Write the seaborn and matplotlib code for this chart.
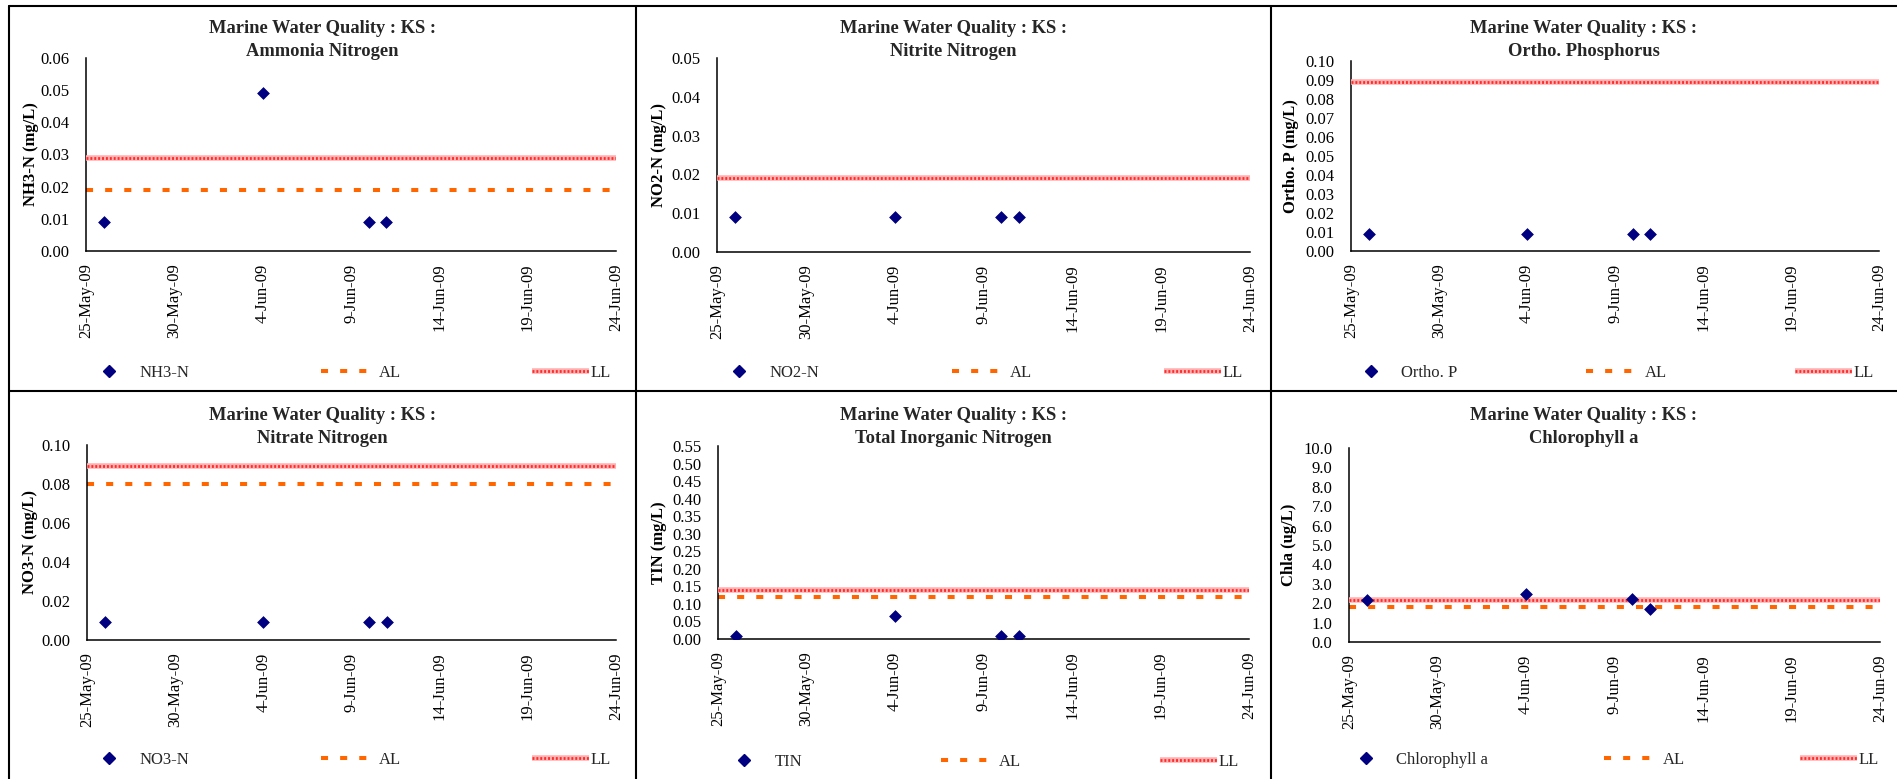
import numpy as np
import pandas as pd
import matplotlib
matplotlib.use('Agg')
import matplotlib.pyplot as plt
import matplotlib.dates as mdates
from matplotlib.lines import Line2D
from matplotlib.ticker import FuncFormatter, FormatStrFormatter
import seaborn as sns

# sampling dates and range of the date axis
sample_dates = pd.to_datetime(['2009-05-26', '2009-06-04', '2009-06-10', '2009-06-11'])
limit_dates = pd.to_datetime(['2009-05-25', '2009-06-24'])
x_ticks = pd.date_range('2009-05-25', '2009-06-24', freq='5D')

# measured values per parameter
nh3_n = [0.009, 0.049, 0.009, 0.009]
no2_n = [0.009, 0.009, 0.009, 0.009]
ortho_p = [0.009, 0.009, 0.009, 0.009]
no3_n = [0.009, 0.009, 0.009, 0.009]
tin = [0.009, 0.066, 0.009, 0.009]
chla = [2.15, 2.45, 2.2, 1.7]

# action level (AL) and limit level (LL)
al_levels = [0.019, np.nan, np.nan, 0.080, 0.12, 1.8]
ll_levels = [0.029, 0.019, 0.089, 0.089, 0.14, 2.14]

titles = ['Ammonia Nitrogen', 'Nitrite Nitrogen', 'Ortho. Phosphorus',
          'Nitrate Nitrogen', 'Total Inorganic Nitrogen', 'Chlorophyll a']
series_names = ['NH3-N', 'NO2-N', 'Ortho. P', 'NO3-N', 'TIN', 'Chlorophyll a']
y_labels = ['NH3-N (mg/L)', 'NO2-N (mg/L)', 'Ortho. P (mg/L)',
            'NO3-N (mg/L)', 'TIN (mg/L)', 'Chla (ug/L)']
y_max = [0.06, 0.05, 0.10, 0.10, 0.55, 10.0]
y_step = [0.01, 0.01, 0.01, 0.02, 0.05, 1.0]
y_fmt = ['%.2f', '%.2f', '%.2f', '%.2f', '%.2f', '%.1f']
values = [nh3_n, no2_n, ortho_p, no3_n, tin, chla]

sns.set_theme(style='white')
plt.rcParams['font.family'] = ['Liberation Serif', 'DejaVu Serif']

W, H = 1897, 779
fig = plt.figure(figsize=(W / 100, H / 100), dpi=100)

# layout in pixels: axes (left, right, top, bottom), y label right edge, legend (left, right, y)
axes_px = [(86, 616, 58, 251), (717, 1250, 58, 252), (1351, 1879, 61, 251),
           (87, 616, 445, 640), (718, 1249, 446, 639), (1349, 1880, 448, 642)]
ylabel_x = [39, 667, 1299, 38, 667, 1297]
legend_px = [(81, 611, 373), (711, 1243, 373), (1343, 1874, 373),
             (81, 611, 760), (716, 1239, 762), (1338, 1879, 760)]
panel_x = [(9, 636), (636, 1271), (1271, 1897)]
title_y = [40, 427]

navy = '#000080'
orange = '#FF6600'
al_style = (0, (1.75, 3.0))


def date_fmt(v, pos):
    d = mdates.num2date(v)
    return f"{d.day}-{d.strftime('%b-%y')}"


for i in range(6):
    l, r, t, b = axes_px[i]
    ax = fig.add_axes([l / W, 1 - b / H, (r - l) / W, (b - t) / H])

    ax.plot(limit_dates, [al_levels[i]] * 2, color=orange, lw=2.9,
            linestyle=al_style, dash_capstyle='butt', zorder=2)
    ll_base, = ax.plot(limit_dates, [ll_levels[i]] * 2, color='#FFB0B0', lw=4.0,
                       solid_capstyle='butt', zorder=3)
    ll_dots, = ax.plot(limit_dates, [ll_levels[i]] * 2, color='#FF2A2A', lw=2.0,
                       linestyle=(0, (0.7, 0.7)), dash_capstyle='butt', zorder=3)
    sns.scatterplot(x=sample_dates, y=values[i], ax=ax, marker='D', s=36,
                    color=navy, edgecolor=navy, linewidth=0.5, zorder=5, legend=False)

    ax.set_xlim(limit_dates[0], limit_dates[1])
    ax.set_ylim(0, y_max[i])
    ax.set_xticks(x_ticks)
    ax.xaxis.set_major_formatter(FuncFormatter(date_fmt))
    ax.set_yticks(np.arange(0, y_max[i] + y_step[i] / 2, y_step[i]))
    ax.yaxis.set_major_formatter(FormatStrFormatter(y_fmt[i]))
    ax.tick_params(axis='x', direction='in', length=4, width=1, pad=9,
                   labelsize=12, labelrotation=90, colors='black')
    ax.tick_params(axis='y', direction='inout', length=8, width=1, pad=8,
                   labelsize=12, colors='black')
    for s in ['top', 'right']:
        ax.spines[s].set_visible(False)
    for s in ['left', 'bottom']:
        ax.spines[s].set_color('black')
        ax.spines[s].set_linewidth(1.1)
    ax.set_xlabel('')
    ax.set_ylabel(y_labels[i], fontsize=12, fontweight='bold', color='black')
    ax.yaxis.set_label_coords(ylabel_x[i] / W, 1 - (t + b) / 2 / H,
                              transform=fig.transFigure)

    px0, px1 = panel_x[i % 3]
    fig.text((px0 + px1) / 2 / W, 1 - title_y[i // 3] / H,
             'Marine Water Quality : KS :\n' + titles[i],
             ha='center', va='center', fontsize=13.3, fontweight='bold',
             linespacing=1.5)

    h_data = Line2D([], [], marker='D', color=navy, linestyle='none', markersize=6)
    h_al = Line2D([], [], color=orange, lw=2.9, linestyle=al_style, dash_capstyle='butt')
    lx0, lx1, ly = legend_px[i]
    fig.legend([h_data, h_al, (ll_base, ll_dots)], [series_names[i], 'AL', 'LL'],
               loc='center', bbox_to_anchor=(lx0 / W, 1 - (ly + 10) / H, (lx1 - lx0) / W, 20 / H),
               bbox_transform=fig.transFigure, mode='expand', ncol=3, frameon=False,
               borderaxespad=0, borderpad=0, handlelength=3.4, handletextpad=0.1,
               fontsize=12)

# panel borders
border = dict(transform=fig.transFigure, color='black', lw=1.5)
fig.add_artist(Line2D([9 / W, 1], [1 - 6 / H, 1 - 6 / H], **border))
fig.add_artist(Line2D([9 / W, 1], [1 - 391 / H, 1 - 391 / H], **border))
for x in [9, 636, 1271]:
    fig.add_artist(Line2D([x / W, x / W], [0, 1 - 6 / H], **border))

fig.savefig('out.png', dpi=100, facecolor='white')
